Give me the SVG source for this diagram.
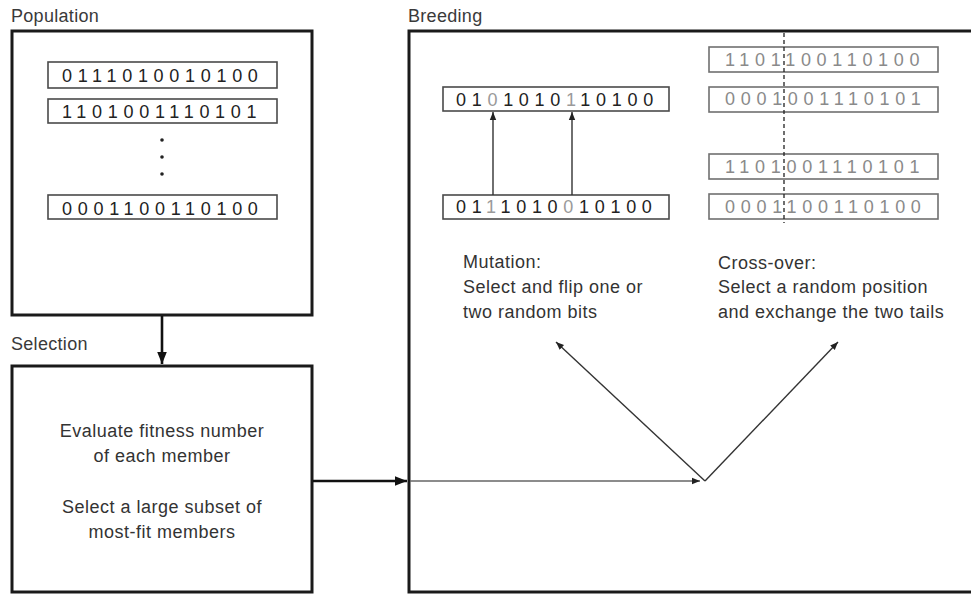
<svg xmlns="http://www.w3.org/2000/svg" width="971" height="594" viewBox="0 0 971 594">
<style>
.title{font-family:"Liberation Sans",Arial,sans-serif;font-size:18px;fill:#3a3a3a;letter-spacing:0.3px}
.body{font-family:"Liberation Sans",Arial,sans-serif;font-size:18px;fill:#333;letter-spacing:0.5px}
.bits{font-family:"Liberation Sans",Arial,sans-serif;font-size:18px;fill:#222;letter-spacing:5.7px}
.gbits{font-family:"Liberation Sans",Arial,sans-serif;font-size:18px;fill:#8a8a8a;letter-spacing:5.7px}
.hl{fill:#9a9a9a}
.frame{fill:#fff;stroke:#1a1a1a;stroke-width:3}
.strbox{fill:#fff;stroke:#4a4a4a;stroke-width:1.6}
.gstrbox{fill:#fff;stroke:#707070;stroke-width:1.6}
.thick{stroke:#111;stroke-width:2.6;fill:none}
.thin{stroke:#333;stroke-width:1.4;fill:none}
.graythin{stroke:#666;stroke-width:1.6;fill:none}
</style>
<defs>
<marker id="ah-thick" markerUnits="userSpaceOnUse" markerWidth="12" markerHeight="12" viewBox="0 0 10 10" refX="10" refY="5" orient="auto">
<path d="M0,1 L10,5 L0,9 z" fill="#111"/>
</marker>
<marker id="ah-thin" markerUnits="userSpaceOnUse" markerWidth="8" markerHeight="8" viewBox="0 0 10 10" refX="10" refY="5" orient="auto">
<path d="M0,1 L10,5 L0,9 z" fill="#222"/>
</marker>
</defs>
<rect width="971" height="594" fill="#fff"/>

<g id="population">
<text class="title" x="11" y="22">Population</text>
<rect class="frame" x="12" y="31" width="300" height="284"/>
<rect class="strbox" x="48" y="62" width="229" height="26"/>
<text class="bits" x="62" y="82">0111010010100</text>
<rect class="strbox" x="48" y="99" width="229" height="24"/>
<text class="bits" x="62" y="118">1101001110101</text>
<circle cx="162" cy="140" r="1.8" fill="#222"/>
<circle cx="162" cy="157" r="1.8" fill="#222"/>
<circle cx="162" cy="174" r="1.8" fill="#222"/>
<rect class="strbox" x="48" y="195" width="229" height="24"/>
<text class="bits" x="62" y="215">0001100110100</text>
</g>

<g id="selection">
<text class="title" x="11" y="350">Selection</text>
<rect class="frame" x="12" y="366" width="300" height="226"/>
<g text-anchor="middle">
<text class="body" x="162" y="437">Evaluate fitness number</text>
<text class="body" x="162" y="462">of each member</text>
<text class="body" x="162" y="513">Select a large subset of</text>
<text class="body" x="162" y="538">most-fit members</text>
</g>
</g>

<g id="breeding">
<text class="title" x="408" y="22">Breeding</text>
<rect class="frame" x="409" y="31" width="600" height="561"/>
</g>

<g id="mutation">
<rect class="strbox" x="443" y="87" width="226" height="24"/>
<text class="bits" x="456" y="106">01<tspan class="hl">0</tspan>1010<tspan class="hl">1</tspan>10100</text>
<rect class="strbox" x="443" y="195" width="226" height="24"/>
<text class="bits" x="456" y="213">01<tspan class="hl">1</tspan>1010<tspan class="hl">0</tspan>10100</text>
<text class="body" x="463" y="268">Mutation:</text>
<text class="body" x="463" y="293">Select and flip one or</text>
<text class="body" x="463" y="318">two random bits</text>
</g>

<g id="crossover">
<rect class="gstrbox" x="709" y="47" width="229" height="25"/>
<text class="gbits" x="725" y="66">1101100110100</text>
<rect class="gstrbox" x="709" y="87" width="229" height="25"/>
<text class="gbits" x="725" y="105">0001001110101</text>
<rect class="gstrbox" x="709" y="154" width="229" height="25"/>
<text class="gbits" x="725" y="173">1101001110101</text>
<rect class="gstrbox" x="709" y="194" width="229" height="25"/>
<text class="gbits" x="725" y="213">0001100110100</text>
<line x1="784" y1="33" x2="784" y2="223" stroke="#222" stroke-width="1.3" stroke-dasharray="4,3"/>
<text class="body" x="718" y="269">Cross-over:</text>
<text class="body" x="718" y="293">Select a random position</text>
<text class="body" x="718" y="318">and exchange the two tails</text>
</g>

<g id="connectors">
<line class="thick" x1="162" y1="316" x2="162" y2="364" marker-end="url(#ah-thick)"/>
<line class="thick" x1="313" y1="481" x2="407" y2="481" marker-end="url(#ah-thick)"/>
<line class="graythin" x1="410" y1="481" x2="700" y2="481" marker-end="url(#ah-thin)"/>
<line class="thin" x1="493" y1="195" x2="493" y2="112" marker-end="url(#ah-thin)"/>
<line class="thin" x1="572" y1="195" x2="572" y2="112" marker-end="url(#ah-thin)"/>
<line class="thin" x1="705" y1="481" x2="556" y2="342" marker-end="url(#ah-thin)"/>
<line class="thin" x1="705" y1="481" x2="838" y2="342" marker-end="url(#ah-thin)"/>
</g>
</svg>
